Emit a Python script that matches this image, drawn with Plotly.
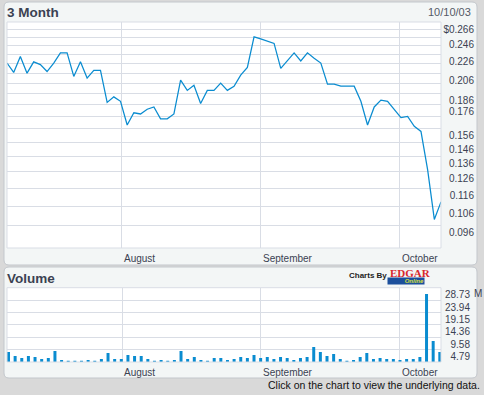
import math
import plotly.graph_objects as go

W, H = 484, 395

# ---- data ----
price = [0.2167, 0.2068, 0.224, 0.206, 0.218, 0.215, 0.2077, 0.2167, 0.228, 0.228,
         0.2027, 0.218, 0.201, 0.209, 0.209, 0.178, 0.183, 0.179, 0.159, 0.169,
         0.168, 0.172, 0.174, 0.164, 0.164, 0.168, 0.199, 0.189, 0.194, 0.177,
         0.189, 0.189, 0.196, 0.189, 0.193, 0.204, 0.212, 0.247, 0.2445, 0.242,
         0.239, 0.211, 0.219, 0.228, 0.219, 0.228, 0.222, 0.2167, 0.195, 0.195,
         0.193, 0.193, 0.193, 0.179, 0.159, 0.174, 0.180, 0.179, 0.172, 0.165,
         0.166, 0.158, 0.154, 0.127, 0.0992, 0.1083]
volume_m = [3.87, 2.32, 1.55, 2.32, 1.93, 1.16, 1.55, 4.25, 0.77, 0.39,
            0.39, 0.39, 0.77, 0.39, 1.16, 3.48, 1.16, 1.16, 2.7, 2.32,
            2.32, 1.16, 0.39, 0.77, 0.39, 0.77, 4.25, 1.16, 1.93, 0.77,
            0.39, 1.55, 1.55, 0.77, 1.16, 1.93, 1.55, 2.7, 1.55, 1.93,
            1.16, 1.93, 1.55, 0.77, 1.55, 1.93, 5.8, 3.87, 2.32, 3.09,
            1.16, 0.39, 0.77, 1.93, 3.48, 1.16, 1.55, 1.16, 1.16, 0.77,
            1.16, 1.16, 1.93, 26.3, 8.12, 3.87]
day_index = list(range(len(price)))
month_labels = ["August", "September", "October"]
month_pos = [17.15, 38.0, 58.85]
price_ticks = [0.096, 0.106, 0.116, 0.126, 0.136, 0.146, 0.156, 0.166, 0.176, 0.186,
               0.196, 0.206, 0.216, 0.226, 0.236, 0.246, 0.256, 0.266]
price_ticktext = ["0.096", "0.106", "0.116", "0.126", "0.136", "0.146", "0.156", "", "0.176", "0.186",
                  "", "0.206", "", "0.226", "", "0.246", "", "$0.266"]
vol_ticks = [4.79, 9.58, 14.36, 19.15, 23.94, 28.73]
vol_ticktext = ["4.79", "9.58", "14.36", "19.15", "23.94", "28.73"]

# ---- style ----
BLUE = "#0a8cd0"
GRID = "#d9dde5"
TXT = "#3b4252"
FONT = "Liberation Sans, Arial, sans-serif"


def px(x):
    return x / W


def py(y):
    return 1 - y / H


fig = go.Figure()
fig.add_trace(go.Scatter(x=day_index, y=price, mode="lines",
                         line=dict(color=BLUE, width=1.25), xaxis="x", yaxis="y",
                         hoverinfo="skip"))
fig.add_trace(go.Bar(x=day_index, y=volume_m, marker=dict(color=BLUE, line=dict(width=0)),
                     width=0.45, xaxis="x2", yaxis="y2", hoverinfo="skip"))

xdom = [px(7), px(441)]
common_x = dict(showgrid=True, gridcolor=GRID, gridwidth=1, zeroline=False, ticks="",
                showticklabels=False, tickmode="array", tickvals=month_pos, showline=False)
common_y = dict(showgrid=True, gridcolor=GRID, gridwidth=1, zeroline=False, ticks="",
                showline=False, tickmode="array", anchor="free", side="left",
                ticklabelposition="outside bottom",
                tickfont=dict(family=FONT, size=10, color=TXT))

fig.update_layout(
    width=W, height=H, margin=dict(l=0, r=0, t=0, b=0),
    paper_bgcolor="#d9d9d9", plot_bgcolor="white", showlegend=False,
    xaxis=dict(domain=xdom, anchor="y", range=[0, 65], **common_x),
    yaxis=dict(domain=[py(248), py(22)], type="log", position=px(474),
               range=[math.log10(0.0860), math.log10(0.266)],
               tickvals=price_ticks, ticktext=price_ticktext, **common_y),
    xaxis2=dict(domain=xdom, anchor="y2", range=[-0.226, 65.18], **common_x),
    yaxis2=dict(domain=[py(362), py(287.7)], range=[0, 28.73], position=px(470),
                tickvals=vol_ticks, ticktext=vol_ticktext, **common_y),
)


def rounded(x0, y0, x1, y1, r):
    rx, ry = r / W, r / H
    X0, X1 = px(x0), px(x1)
    Y0, Y1 = py(y0), py(y1)  # Y0 top, Y1 bottom
    return (f"M {X0+rx},{Y0} L {X1-rx},{Y0} Q {X1},{Y0} {X1},{Y0-ry} "
            f"L {X1},{Y1+ry} Q {X1},{Y1} {X1-rx},{Y1} L {X0+rx},{Y1} "
            f"Q {X0},{Y1} {X0},{Y1+ry} L {X0},{Y0-ry} Q {X0},{Y0} {X0+rx},{Y0} Z")


shapes = [
    dict(type="path", xref="paper", yref="paper", path=rounded(4, 2, 477, 265, 5),
         fillcolor="#f3f6f6", line=dict(color="#c3c7cc", width=1), layer="below"),
    dict(type="path", xref="paper", yref="paper", path=rounded(4, 267, 477, 378, 5),
         fillcolor="#f3f6f6", line=dict(color="#c3c7cc", width=1), layer="below"),
    dict(type="rect", xref="x domain", yref="y domain", x0=0, x1=1, y0=0, y1=1,
         fillcolor="white", line=dict(width=0), layer="below"),
    dict(type="rect", xref="x2 domain", yref="y2 domain", x0=0, x1=1, y0=0, y1=1,
         fillcolor="white", line=dict(width=0), layer="below"),
    dict(type="rect", xref="x domain", yref="y domain", x0=0, x1=1, y0=0, y1=1,
         line=dict(color=GRID, width=1), layer="above"),
    dict(type="rect", xref="x2 domain", yref="y2 domain", x0=0, x1=1, y0=0, y1=1,
         line=dict(color=GRID, width=1), layer="above"),
]
fig.update_layout(shapes=shapes)

ann = []
ann.append(dict(text="<b>3 Month</b>", x=px(5), y=py(12), xref="paper", yref="paper",
                xanchor="left", yanchor="middle", showarrow=False,
                font=dict(family=FONT, size=13.5, color=TXT)))
ann.append(dict(text="10/10/03", x=px(473), y=py(12), xref="paper", yref="paper",
                xanchor="right", yanchor="middle", showarrow=False,
                font=dict(family=FONT, size=11, color="#555a66")))
ann.append(dict(text="<b>Volume</b>", x=px(5), y=py(278), xref="paper", yref="paper",
                xanchor="left", yanchor="middle", showarrow=False,
                font=dict(family=FONT, size=13.5, color=TXT)))
ann.append(dict(text="M", x=px(471.5), y=py(293), xref="paper", yref="paper",
                xanchor="left", yanchor="middle", showarrow=False,
                font=dict(family=FONT, size=10, color=TXT)))
ann.append(dict(text="<b>Charts By</b>", x=px(389), y=py(275), xref="paper", yref="paper",
                xanchor="right", yanchor="middle", showarrow=False,
                font=dict(family=FONT, size=8, color="#222222")))
ann.append(dict(text="<b>EDGAR</b>", x=px(388), y=py(273), xref="paper", yref="paper",
                xanchor="left", yanchor="middle", showarrow=False,
                font=dict(family="Liberation Serif, serif", size=11, color="#d8282c")))
ann.append(dict(text="<b><i>Online</i></b>", x=px(425), y=py(281), xref="paper", yref="paper",
                xanchor="right", yanchor="middle", showarrow=False, bgcolor="#1c4f9c",
                borderpad=0, width=36, height=6, align="right",
                font=dict(family=FONT, size=6, color="#d8e040")))
ann.append(dict(text="Click on the chart to view the underlying data.", x=px(482), y=py(385),
                xref="paper", yref="paper", xanchor="right", yanchor="middle",
                showarrow=False, font=dict(family=FONT, size=10.5, color="#111111")))
for lab, pos in zip(month_labels, month_pos):
    ann.append(dict(text=lab, x=pos, y=py(258), xref="x", yref="paper", xanchor="left",
                    yanchor="middle", showarrow=False,
                    font=dict(family=FONT, size=10, color=TXT)))
    ann.append(dict(text=lab, x=pos, y=py(372), xref="x", yref="paper", xanchor="left",
                    yanchor="middle", showarrow=False,
                    font=dict(family=FONT, size=10, color=TXT)))
fig.update_layout(annotations=ann)

fig.write_html("out.html", config={"displayModeBar": False},
               post_script="document.body.style.margin='0';document.body.style.padding='0';")
